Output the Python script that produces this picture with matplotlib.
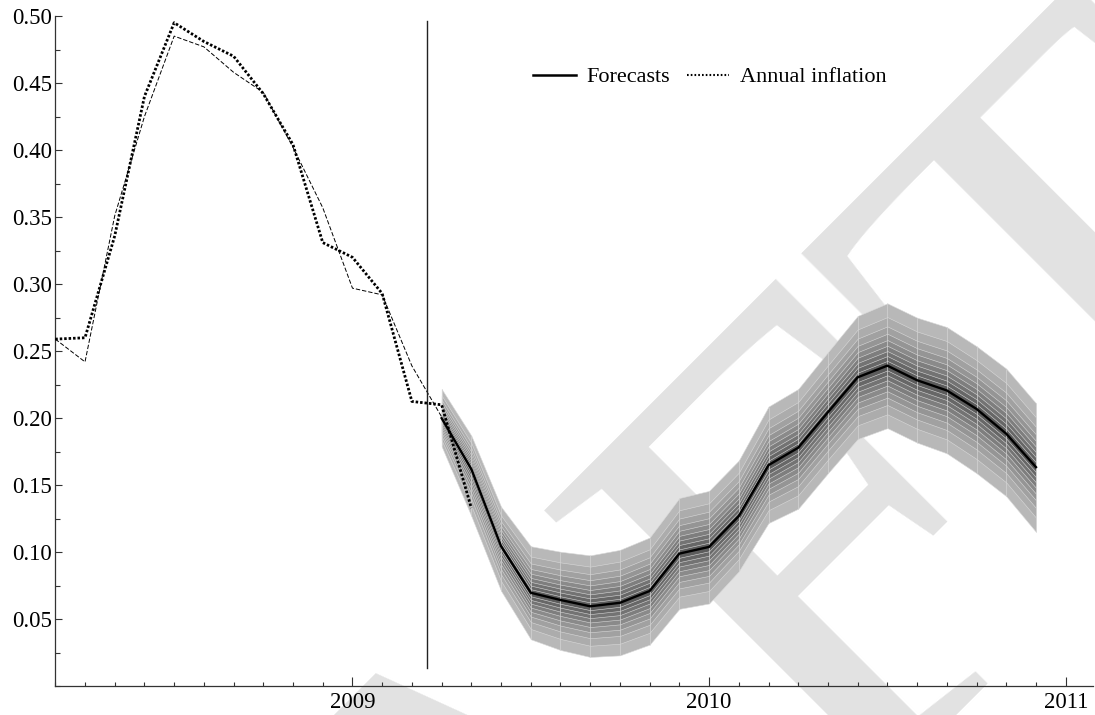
import numpy as np
import matplotlib.pyplot as plt
from matplotlib.ticker import FixedLocator, MultipleLocator, FormatStrFormatter
from matplotlib.lines import Line2D

plt.rcParams['font.family'] = ['Liberation Serif', 'DejaVu Serif']

# monthly data, first observation is 2008 M3
start = 2008 + 2 / 12.

# in-sample fit (thin dashed), 2008M3 .. 2009M4
fitted = [0.259, 0.242, 0.351, 0.425, 0.485, 0.477, 0.458, 0.443, 0.402,
          0.357, 0.297, 0.292, 0.239, 0.201]
# annual inflation, 2008M3 .. 2009M5
inflation = [0.259, 0.260, 0.336, 0.440, 0.495, 0.481, 0.470, 0.442, 0.404,
             0.331, 0.320, 0.293, 0.2125, 0.210, 0.133]
# forecasts 2009M4 .. 2010M12
fc_first = 13
forecast = [0.200, 0.162, 0.1045, 0.0698, 0.0644, 0.0597, 0.0623, 0.0711,
            0.099, 0.104, 0.127, 0.165, 0.178, 0.2045, 0.2305, 0.2392,
            0.2283, 0.2207, 0.2069, 0.1884, 0.1635]
upper = [0.2218, 0.187, 0.134, 0.1045, 0.1004, 0.0977, 0.1018, 0.111,
         0.1405, 0.1458, 0.1685, 0.2087, 0.2218, 0.2493, 0.2763, 0.2857,
         0.275, 0.268, 0.2537, 0.237, 0.2112]
lower = [0.179, 0.127, 0.0712, 0.0351, 0.0271, 0.0219, 0.0231, 0.0311,
         0.0578, 0.0618, 0.0858, 0.1218, 0.1325, 0.159, 0.1845, 0.1926,
         0.1818, 0.1738, 0.159, 0.1418, 0.1152]
# share of the outer band for each fan band (quantile steps)
fan_levels = [1.0, 0.779, 0.630, 0.512, 0.410, 0.319, 0.234, 0.154, 0.076]

split_at = 12.5          # months after start
split_range = [0.014, 0.496]

year_ticks = [2009, 2010, 2011]
y_ticks = [0.05, 0.10, 0.15, 0.20, 0.25, 0.30, 0.35, 0.40, 0.45, 0.50]

t_fit = start + np.arange(len(fitted)) / 12.
t_inf = start + np.arange(len(inflation)) / 12.
t_fc = start + (fc_first + np.arange(len(forecast))) / 12.
fc = np.array(forecast)
up = np.array(upper)
lo = np.array(lower)

fig = plt.figure(figsize=(10.95, 7.15), dpi=100)
fig.patch.set_facecolor('white')
ax = fig.add_axes([0.0505, 0.0401, 0.9477, 0.9375])
ax.set_facecolor('none')

# watermark behind everything
fig.text(0.455, -0.297, 'DRAFT', rotation=45, rotation_mode='anchor',
         ha='center', va='center', fontsize=480, color='#e2e2e2', zorder=-5)

# fan
greys = np.linspace(0.72, 0.36, len(fan_levels))
for r, g in zip(fan_levels, greys):
    ax.fill_between(t_fc, fc - r * (fc - lo), fc + r * (up - fc),
                    facecolor=str(g), edgecolor='#d9d9d9', lw=0.4, zorder=2)
ax.vlines(t_fc, lo, up, color='#d4d4d4', lw=0.5, zorder=2.5)

ax.plot(t_fit, fitted, color='black', lw=0.7, dashes=(4.5, 2), zorder=3)
ax.plot(t_inf, inflation, color='black', lw=2.0, dashes=(0.9, 0.7), zorder=4)
ax.plot(t_fc, forecast, color='black', lw=1.7, zorder=5)

ts = start + split_at / 12.
ax.plot([ts, ts], split_range, color='#222222', lw=1.0, zorder=3)

ax.set_xlim(start, start + 34.92 / 12.)
ax.set_ylim(0, 0.5)

ax.xaxis.set_major_locator(FixedLocator(year_ticks))
ax.xaxis.set_minor_locator(FixedLocator(start + np.arange(0, 35) / 12.))
ax.set_xticklabels([str(y) for y in year_ticks])
ax.yaxis.set_major_locator(FixedLocator(y_ticks))
ax.yaxis.set_minor_locator(MultipleLocator(0.025))
ax.yaxis.set_major_formatter(FormatStrFormatter('%.2f'))

ax.tick_params(axis='both', which='both', direction='in', width=0.8,
               labelsize=16.5, color='#333333')
ax.tick_params(axis='x', which='major', length=6.5, pad=4)
ax.tick_params(axis='x', which='minor', length=3)
ax.tick_params(axis='y', which='major', length=5, pad=2.6)
ax.tick_params(axis='y', which='minor', length=3.6)
for s in ['top', 'right']:
    ax.spines[s].set_visible(False)
for s in ['left', 'bottom']:
    ax.spines[s].set_linewidth(0.9)
    ax.spines[s].set_color('#333333')

handles = [Line2D([], [], color='black', lw=1.8),
           Line2D([], [], color='black', lw=1.5, dashes=(0.8, 1.0))]
ax.legend(handles, ['Forecasts', 'Annual inflation'], loc='center',
          bbox_to_anchor=(0.631, 0.909), ncol=2, frameon=False, fontsize=16,
          handlelength=1.9, handletextpad=0.5, columnspacing=0.75)

fig.savefig('out.png', dpi=100, facecolor='white')
